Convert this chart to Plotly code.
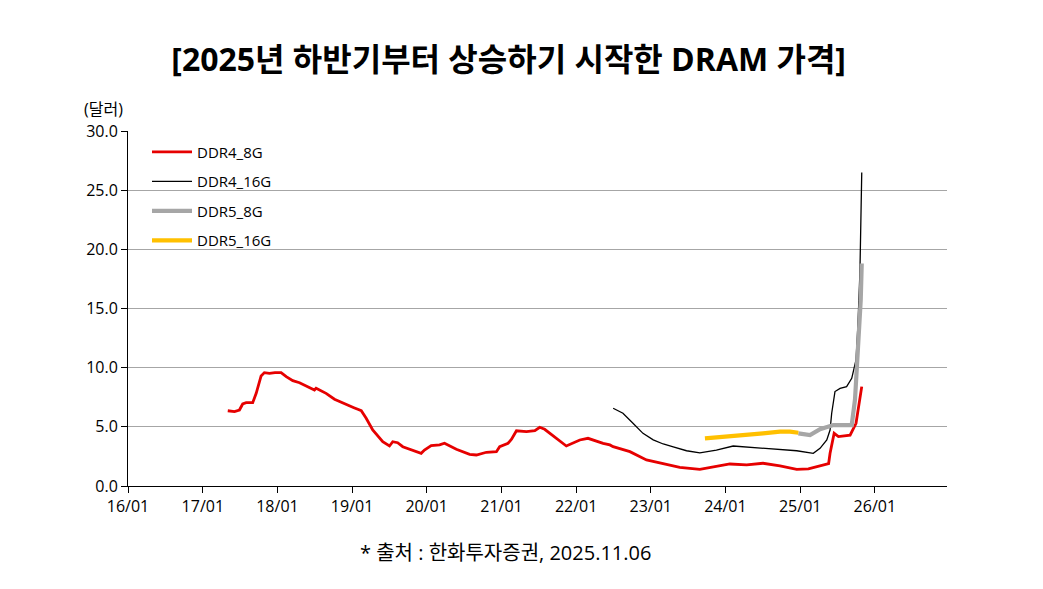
import plotly.graph_objects as go

# values (USD)
ddr4_8g_dates = [
    "2017-05-03", "2017-06-05", "2017-06-29", "2017-07-15", "2017-08-01", "2017-09-02",
    "2017-09-19", "2017-10-13", "2017-10-29", "2017-11-23", "2017-12-20", "2018-01-19",
    "2018-02-13", "2018-03-17", "2018-04-19", "2018-05-25", "2018-07-01", "2018-07-09",
    "2018-08-27", "2018-10-07", "2018-11-25", "2019-01-10", "2019-01-29", "2019-02-15",
    "2019-03-11", "2019-04-12", "2019-05-31", "2019-07-03", "2019-07-19", "2019-08-12",
    "2019-09-06", "2019-10-24", "2019-12-05", "2019-12-21", "2020-01-23", "2020-03-04",
    "2020-03-28", "2020-05-25", "2020-07-29", "2020-08-31", "2020-10-19", "2020-12-07",
    "2020-12-23", "2021-02-02", "2021-02-19", "2021-03-15", "2021-05-03", "2021-06-13",
    "2021-07-07", "2021-07-31", "2021-09-27", "2021-11-14", "2022-01-19", "2022-02-28",
    "2022-05-13", "2022-06-15", "2022-07-01", "2022-09-21", "2022-12-11", "2023-03-03",
    "2023-05-23", "2023-08-29", "2023-11-02", "2024-01-23", "2024-04-14", "2024-07-03",
    "2024-09-24", "2024-12-15", "2025-02-10", "2025-04-08", "2025-05-20", "2025-05-27",
    "2025-06-16", "2025-07-07", "2025-09-02", "2025-10-01", "2025-10-12", "2025-10-29",
]
ddr4_8g = [
    6.36, 6.28, 6.42, 6.93, 7.04, 7.04,
    7.83, 9.30, 9.58, 9.52, 9.58, 9.58,
    9.24, 8.90, 8.73, 8.45, 8.11, 8.26,
    7.83, 7.33, 6.93, 6.62, 6.48, 6.36,
    5.72, 4.73, 3.74, 3.38, 3.74, 3.66,
    3.32, 3.04, 2.76, 3.04, 3.41, 3.47,
    3.61, 3.10, 2.68, 2.62, 2.85, 2.90,
    3.32, 3.61, 3.95, 4.67, 4.59, 4.67,
    4.96, 4.79, 4.03, 3.38, 3.89, 4.03,
    3.61, 3.47, 3.32, 2.90, 2.20, 1.86,
    1.58, 1.40, 1.58, 1.86, 1.78, 1.92,
    1.70, 1.40, 1.45, 1.70, 1.90, 2.76,
    4.45, 4.17, 4.30, 5.30, 6.70, 8.40,
]

ddr4_16g_dates = [
    "2022-07-01", "2022-08-18", "2022-10-06", "2022-11-24", "2023-01-13", "2023-03-03",
    "2023-04-21", "2023-06-25", "2023-08-29", "2023-11-18", "2024-02-08", "2024-04-30",
    "2024-07-03", "2024-09-24", "2024-12-15", "2025-03-06", "2025-04-08", "2025-05-11",
    "2025-05-27", "2025-06-04", "2025-06-20", "2025-07-15", "2025-08-16", "2025-09-10",
    "2025-10-01", "2025-10-10", "2025-10-20", "2025-10-29",
]
ddr4_16g = [
    6.57, 6.15, 5.30, 4.45, 3.90, 3.55,
    3.30, 2.98, 2.80, 3.04, 3.38, 3.27,
    3.18, 3.10, 2.98, 2.76, 3.18, 3.90,
    4.73, 6.15, 7.98, 8.25, 8.40, 9.10,
    10.65, 13.50, 18.00, 26.50,
]

ddr5_8g_dates = [
    "2024-12-23", "2025-02-18", "2025-04-08", "2025-06-12", "2025-08-16", "2025-09-10",
    "2025-09-26", "2025-10-12", "2025-10-24", "2025-10-29",
]
ddr5_8g = [4.45, 4.30, 4.80, 5.15, 5.15, 5.15, 7.30, 11.80, 15.70, 18.80]

ddr5_16g_dates = [
    "2023-09-23", "2024-01-23", "2024-04-30", "2024-07-03", "2024-09-24", "2024-11-12",
    "2024-12-23",
]
ddr5_16g = [4.03, 4.20, 4.30, 4.45, 4.60, 4.60, 4.50]

x_tick_dates = [f"{y}-01-01" for y in range(2016, 2027)]
x_tick_labels = ["16/01", "17/01", "18/01", "19/01", "20/01", "21/01",
                 "22/01", "23/01", "24/01", "25/01", "26/01"]
y_ticks = [0, 5, 10, 15, 20, 25, 30]

FONT = "Open Sans, Noto Sans CJK KR"

fig = go.Figure()
fig.add_trace(go.Scatter(x=ddr4_8g_dates, y=ddr4_8g, mode="lines", name="DDR4_8G",
                         legendgroup="a", line=dict(color="#e60000", width=2.8)))
fig.add_trace(go.Scatter(x=ddr4_16g_dates, y=ddr4_16g, mode="lines", name="DDR4_16G",
                         legendgroup="b", line=dict(color="#000000", width=1.3)))
fig.add_trace(go.Scatter(x=ddr5_8g_dates, y=ddr5_8g, mode="lines", name="DDR5_8G",
                         legendgroup="c", line=dict(color="#a6a6a6", width=4.2)))
fig.add_trace(go.Scatter(x=ddr5_16g_dates, y=ddr5_16g, mode="lines", name="DDR5_16G",
                         legendgroup="d", line=dict(color="#ffc000", width=4.2)))

# the page body adds an 8px margin, so the margins below are shifted by 8px
fig.update_layout(
    width=1043,
    height=589,
    margin=dict(l=120, r=104, t=123, b=111),
    paper_bgcolor="white",
    plot_bgcolor="white",
    font=dict(family=FONT, size=16, color="#000000"),
    title=dict(text="<b>[2025년 하반기부터 상승하기 시작한 DRAM 가격]</b>",
               x=0.480, xanchor="center", y=0.912, yanchor="middle",
               font=dict(family=FONT, size=32, color="#000000")),
    showlegend=True,
    legend=dict(x=0.0232, y=0.987, xanchor="left", yanchor="top",
                bgcolor="rgba(0,0,0,0)", tracegroupgap=7, itemwidth=40,
                font=dict(family=FONT, size=15)),
    xaxis=dict(
        type="date",
        range=["2016-01-01", "2026-12-20"],
        tickvals=x_tick_dates,
        ticktext=x_tick_labels,
        ticks="outside", ticklen=6, tickcolor="#000000",
        showline=True, linecolor="#000000", linewidth=1,
        showgrid=False, zeroline=False,
    ),
    yaxis=dict(
        range=[0, 30],
        tickvals=y_ticks,
        tickformat=".1f",
        ticks="outside", ticklen=6, tickcolor="#000000",
        showline=True, linecolor="#000000", linewidth=1,
        showgrid=True, gridcolor="#a6a6a6", gridwidth=1,
        zeroline=False,
    ),
    annotations=[
        dict(text="(달러)", xref="paper", yref="paper", x=-0.056, y=1.062,
             xanchor="left", yanchor="middle", showarrow=False,
             font=dict(family=FONT, size=16)),
        dict(text="* 출처 : 한화투자증권, 2025.11.06", xref="paper", yref="paper",
             x=0.281, y=-0.186, xanchor="left", yanchor="middle", showarrow=False,
             font=dict(family=FONT, size=20)),
    ],
)

fig.write_html("out.html")
